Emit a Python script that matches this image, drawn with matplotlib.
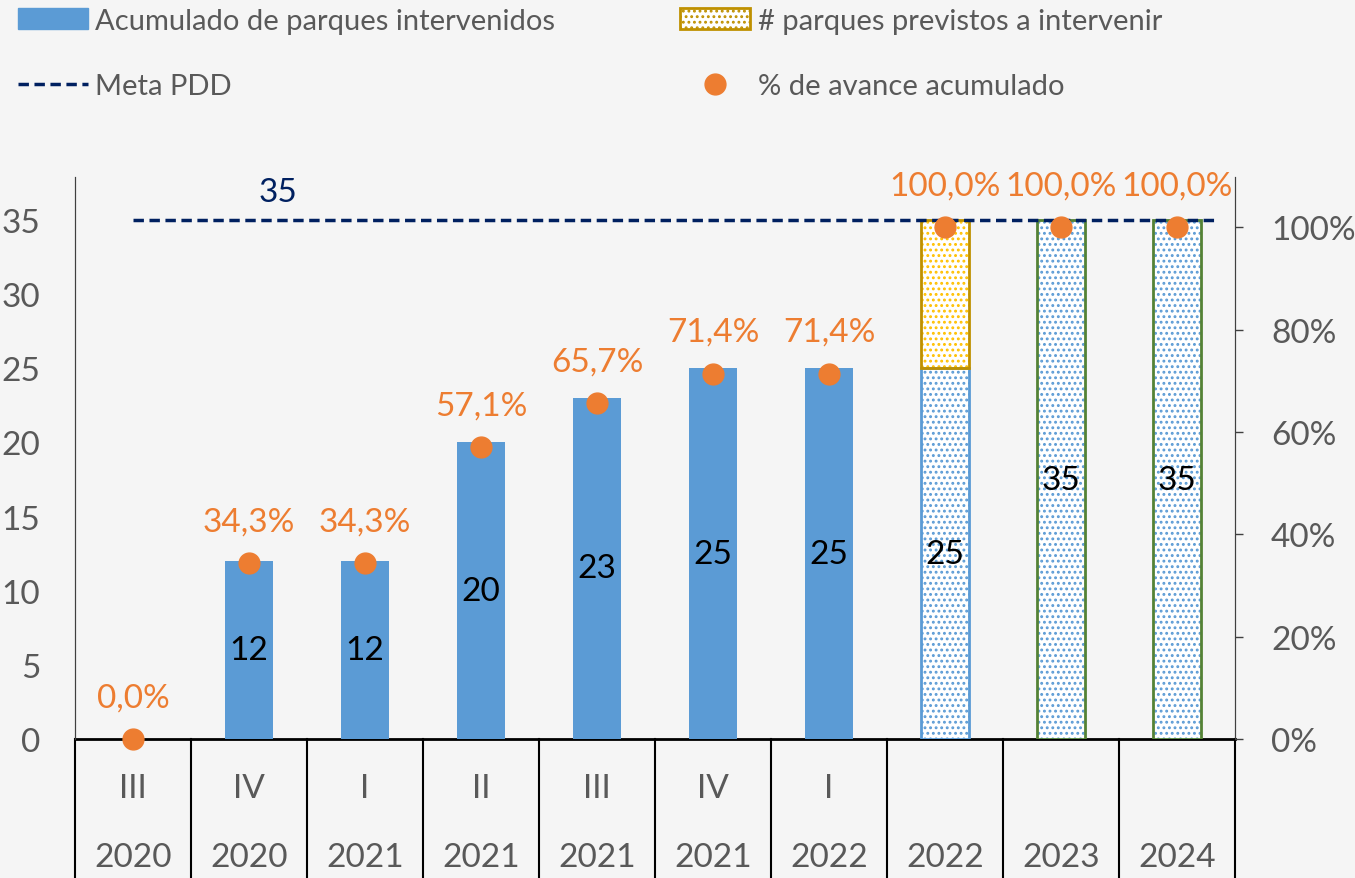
import matplotlib
matplotlib.use("Agg")
import matplotlib.pyplot as plt
from matplotlib.lines import Line2D
from matplotlib.patches import Patch
from matplotlib.transforms import blended_transform_factory
import numpy as np

# ── Data ─────────────────────────────────────────────────────────────────────
quarters = ["III", "IV", "I", "II", "III", "IV", "I", "", "", ""]
years = ["2020", "2020", "2021", "2021", "2021", "2021", "2022", "2022", "2023", "2024"]
acumulado = [0, 12, 12, 20, 23, 25, 25, 25, 35, 35]
previstos = [0, 0, 0, 0, 0, 0, 0, 10, 0, 0]
avance_pct = [0.0, 34.3, 34.3, 57.1, 65.7, 71.4, 71.4, 100.0, 100.0, 100.0]
meta_pdd = 35
n_real = 7          # first 7 bars are executed, the rest are projected

# ── Style ────────────────────────────────────────────────────────────────────
BLUE = "#5B9BD5"
ORANGE = "#ED7D31"
NAVY = "#002060"
GOLD = "#BF9000"
YELLOW = "#FFC000"
GREEN = "#548235"
GRAY = "#595959"
BG = "#f5f5f5"
FS = 24      # ticks / data labels
FS_LEG = 21  # legend

plt.rcParams["font.family"] = ["Lato", "DejaVu Sans"]
plt.rcParams["hatch.linewidth"] = 1.3

fig = plt.figure(figsize=(13.55, 8.79), dpi=100, facecolor=BG)
ax = fig.add_axes([0.0554, 0.1581, 0.856, 0.6394])
ax.set_facecolor("none")
ax2 = ax.twinx()

x = np.arange(len(acumulado))
w = 0.42
HATCH = "..."

# executed bars
ax.bar(x[:n_real], acumulado[:n_real], width=w, color=BLUE, zorder=2)

# projected bars: blue dotted fill
for i in range(n_real, len(acumulado)):
    ax.bar(i, acumulado[i], width=w, color="white", edgecolor=BLUE,
           hatch=HATCH, linewidth=0, zorder=2)
    edge = BLUE if previstos[i] else GREEN
    ax.bar(i, acumulado[i], width=w, fill=False, edgecolor=edge,
           linewidth=2, zorder=3)
    if previstos[i]:
        ax.bar(i, previstos[i], bottom=acumulado[i], width=w, color="white",
               edgecolor=YELLOW, hatch=HATCH, linewidth=0, zorder=2)
        ax.bar(i, previstos[i], bottom=acumulado[i], width=w, fill=False,
               edgecolor=GOLD, linewidth=2, zorder=3)

# value labels inside bars
for i, v in enumerate(acumulado):
    if v > 0:
        ax.text(i, v / 2, f"{v}", ha="center", va="center", fontsize=FS,
                color="black", zorder=5)

# meta line
ax.hlines(meta_pdd, 0, 9.35, colors=NAVY, linestyles=(0, (3, 1.6)), lw=2.5, zorder=4)
ax.annotate(f"{meta_pdd}", (1.25, meta_pdd), xytext=(0, 20), textcoords="offset points",
            ha="center", va="center", fontsize=FS, color=NAVY)

# % avance on secondary axis
ax2.plot(x, np.array(avance_pct) / 100, "o", color=ORANGE, ms=15, zorder=8,
         linestyle="none", clip_on=False)
for i, p in enumerate(avance_pct):
    ax2.annotate(f"{p:.1f}%".replace(".", ","), (i, p / 100), xytext=(0, 30),
                 textcoords="offset points", ha="center", va="center",
                 fontsize=FS, color=ORANGE)

# axes
ax.set_xlim(-0.5, 9.5)
ax.set_ylim(0, 37.9)
ax2.set_ylim(0, 1.098)
ax.set_yticks(range(0, 36, 5))
ax2.set_yticks(np.arange(0, 1.01, 0.2))
ax2.set_yticklabels([f"{int(round(t * 100))}%" for t in np.arange(0, 1.01, 0.2)])
ax.tick_params(axis="y", length=0, pad=25, labelsize=FS, labelcolor=GRAY)
ax2.tick_params(axis="y", length=6, width=1, color="#404040", pad=20,
                labelsize=FS, labelcolor=GRAY)
ax.set_xticks([])
for a in (ax, ax2):
    a.spines["top"].set_visible(False)
    a.spines["bottom"].set_visible(False)
    a.spines["left"].set_color("#404040")
    a.spines["right"].set_color("#404040")
ax2.set_zorder(ax.get_zorder() + 1)
ax2.patch.set_visible(False)

# category table below the axis
trans = blended_transform_factory(ax.transData, fig.transFigure)
y0 = 0.1581
ax.add_line(Line2D([-0.5, 9.5], [y0, y0], transform=trans, color="black",
                   lw=2, clip_on=False, zorder=1))
for k in range(len(acumulado) + 1):
    ax.add_line(Line2D([k - 0.5, k - 0.5], [0, y0], transform=trans,
                       color="black", lw=1.5, clip_on=False))
for i in range(len(acumulado)):
    ax.text(i, 0.1024, quarters[i], transform=trans, ha="center", va="center",
            fontsize=FS, color=GRAY)
    ax.text(i, 0.024, years[i], transform=trans, ha="center", va="center",
            fontsize=FS, color=GRAY)

# legend
handles = [
    Patch(facecolor=BLUE, edgecolor=BLUE, label="Acumulado de parques intervenidos"),
    Line2D([], [], color=NAVY, ls=(0, (3, 1.6)), lw=2.5, label="Meta PDD"),
    Patch(facecolor="white", edgecolor=GOLD, hatch="...", lw=2,
          label="# parques previstos a intervenir"),
    Line2D([], [], color=ORANGE, marker="o", ms=15, ls="none",
           label="% de avance acumulado"),
]
fig.legend(handles=handles, loc="upper left", bbox_to_anchor=(0.0, 1.01), ncol=2,
           frameon=False, fontsize=FS_LEG, labelcolor=GRAY, handlelength=2.4,
           handletextpad=0.25, columnspacing=4.3, labelspacing=1.35,
           borderaxespad=0.3, borderpad=0.3)

fig.savefig("out.png", dpi=100, facecolor=BG)
